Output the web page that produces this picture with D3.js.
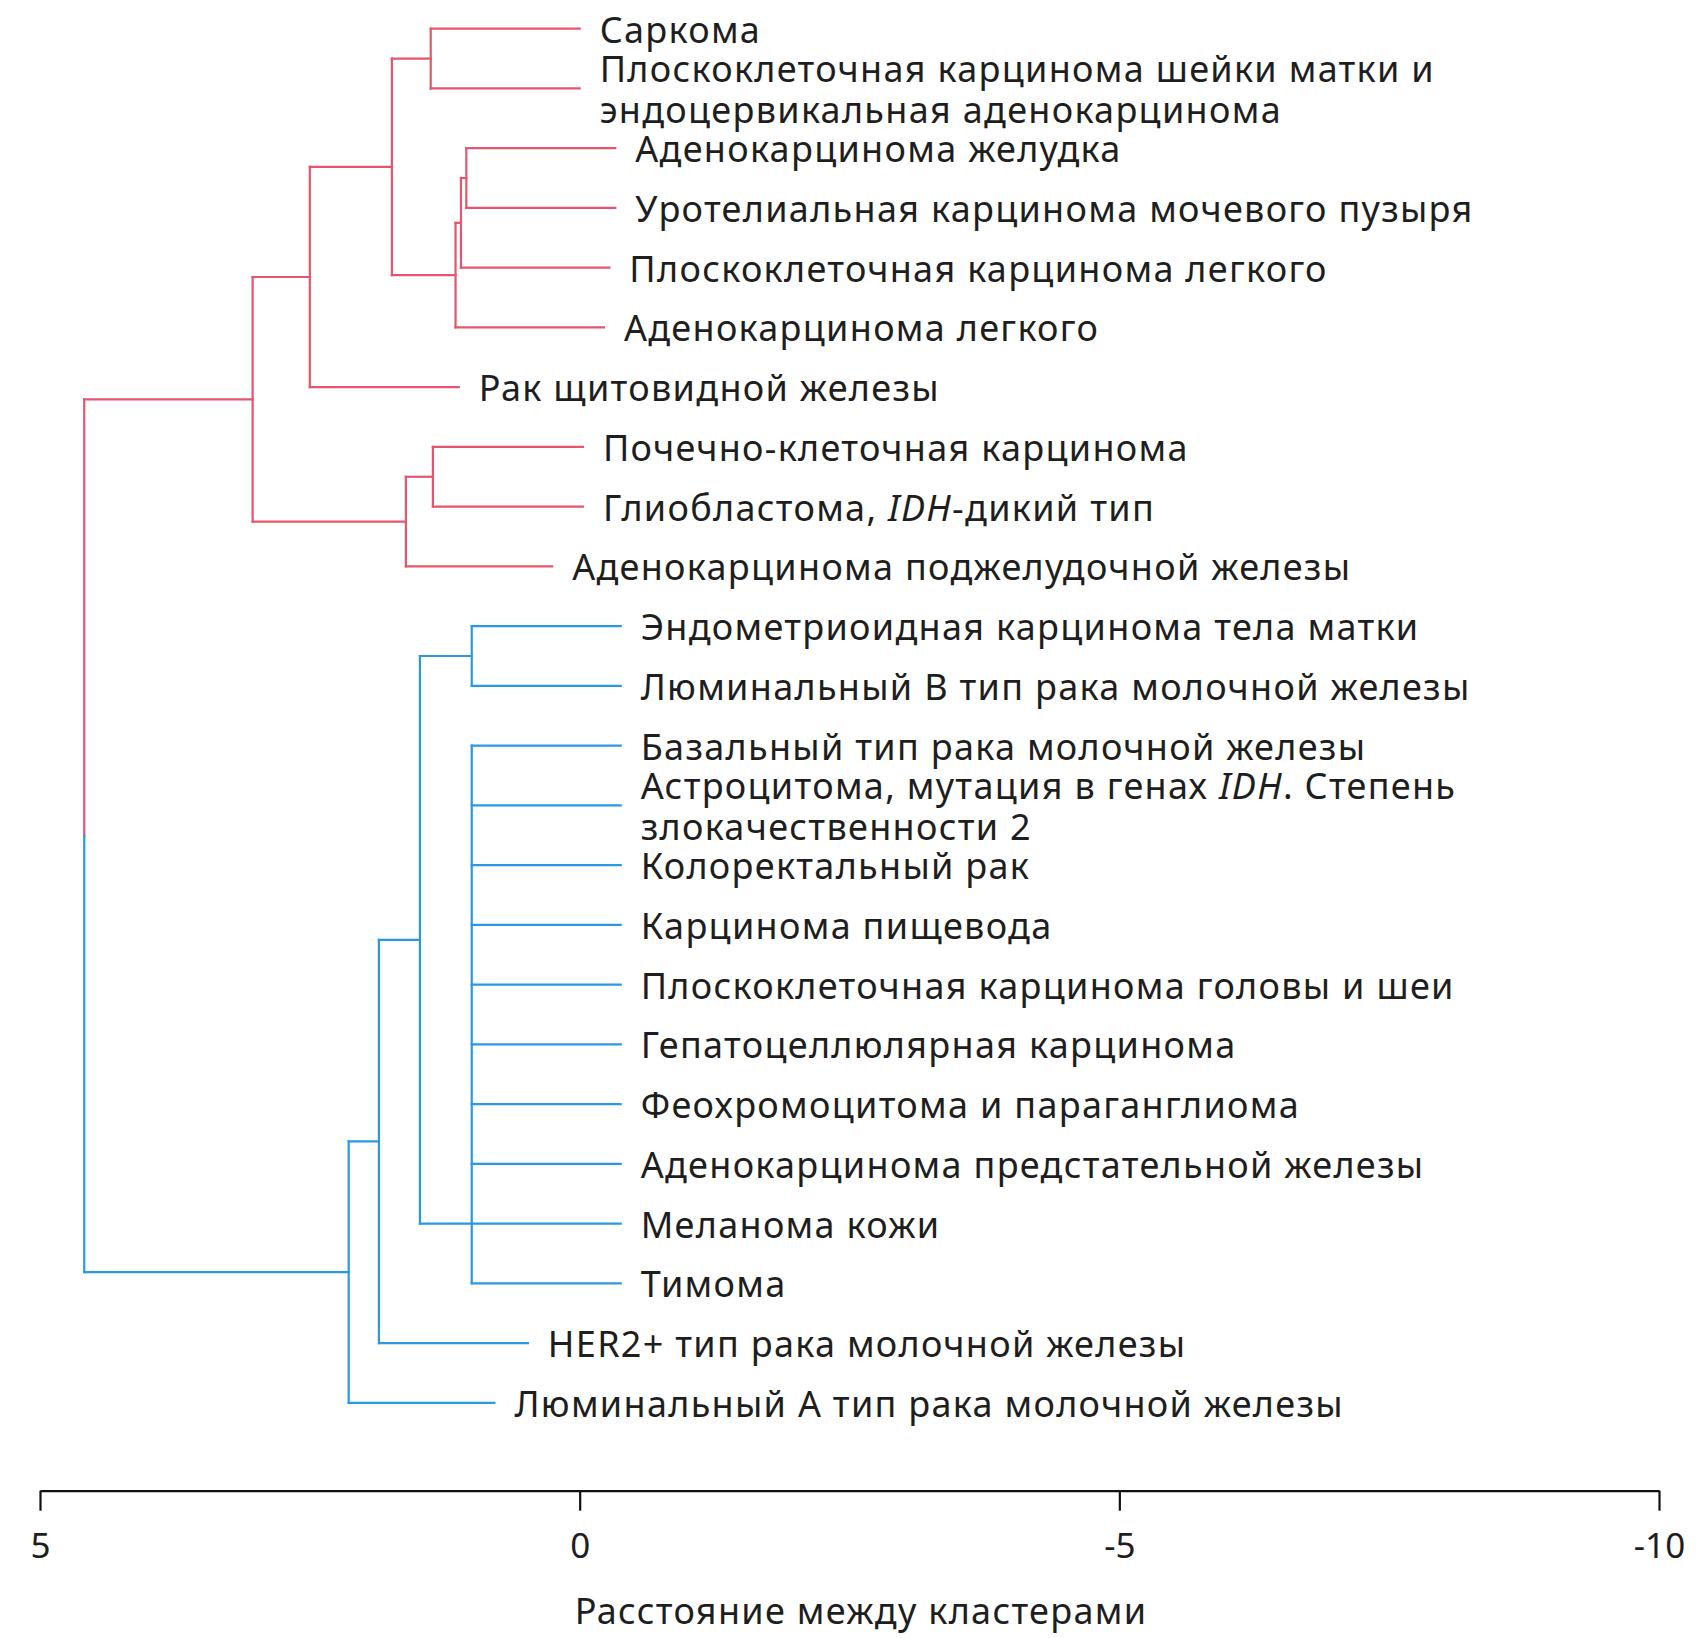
<!DOCTYPE html>
<html><head><meta charset="utf-8">
<script src="https://cdn.jsdelivr.net/npm/d3@7"></script>
<style>
html,body{margin:0;padding:0;background:#fff;}
svg{display:block;}
text{font-family:"Noto Sans", sans-serif;}
</style></head><body>
<svg id="chart" width="1697" height="1638"></svg>
<script>
// ---- Data ----
const leafKeys = ["SARC","CESC","STAD","BLCA","LUSC","LUAD","THCA","KIRC","GBM","PAAD",
  "UCEC","LUMB","BASAL","LGG","CRC","ESCA","HNSC","LIHC","PCPG","PRAD","SKCM","THYM","HER2","LUMA"];
const leafNames = [
  "Саркома",
  "Плоскоклеточная карцинома шейки матки и\nэндоцервикальная аденокарцинома",
  "Аденокарцинома желудка",
  "Уротелиальная карцинома мочевого пузыря",
  "Плоскоклеточная карцинома легкого",
  "Аденокарцинома легкого",
  "Рак щитовидной железы",
  "Почечно-клеточная карцинома",
  "Глиобластома, _IDH_-дикий тип",
  "Аденокарцинома поджелудочной железы",
  "Эндометриоидная карцинома тела матки",
  "Люминальный B тип рака молочной железы",
  "Базальный тип рака молочной железы",
  "Астроцитома, мутация в генах _IDH_. Степень\nзлокачественности 2",
  "Колоректальный рак",
  "Карцинома пищевода",
  "Плоскоклеточная карцинома головы и шеи",
  "Гепатоцеллюлярная карцинома",
  "Феохромоцитома и параганглиома",
  "Аденокарцинома предстательной железы",
  "Меланома кожи",
  "Тимома",
  "HER2+ тип рака молочной железы",
  "Люминальный A тип рака молочной железы"
];
// where each leaf branch ends (in distance units)
const leafEnd = [0, 0, -0.33, -0.33, -0.275, -0.225, 1.12, -0.03, -0.03, 0.255,
  -0.38, -0.38, -0.38, -0.38, -0.38, -0.38, -0.38, -0.38, -0.38, -0.38, -0.38, -0.38, 0.48, 0.79];

const mergeIds = ["m1","m2","m3","m4","m5","m6","m7","m8","m9","m10","m11","m12","m13","m14","m15"];
const mergeChildren = [
  ["SARC","CESC"],
  ["STAD","BLCA"],
  ["m2","LUSC"],
  ["m3","LUAD"],
  ["m1","m4"],
  ["m5","THCA"],
  ["KIRC","GBM"],
  ["m7","PAAD"],
  ["m6","m8"],
  ["UCEC","LUMB"],
  ["BASAL","LGG","CRC","ESCA","HNSC","LIHC","PCPG","PRAD","SKCM","THYM"],
  ["m10","m11"],
  ["m12","HER2"],
  ["m13","LUMA"],
  ["m9","m14"]
];
const mergeHeights = [1.38, 1.05, 1.10, 1.15, 1.74, 2.50, 1.36, 1.61, 3.03, 1.00, 1.00, 1.48, 1.86, 2.14, 4.59];
// cluster m11 is attached at the level of this leaf
const mergeAnchor = [null,null,null,null,null,null,null,null,null,null,"SKCM",null,null,null,null];

const clusterColors = ["#e3566d", "#2b98e5"];
const tickValues = [5, 0, -5, -10];
const tickLabels = ["5", "0", "-5", "-10"];
const axisTitle = "Расстояние между кластерами";

// ---- Layout ----
const svg = d3.select("#chart");
const x = d3.scaleLinear().domain([5, -10]).range([40, 1659]);
const y = d3.scalePoint().domain(leafKeys).range([28.7, 1402.8]);
const axisY = 1490.7;
const FS = 36;
const LS = "1.3px";

// build node table
const nodes = new Map();
leafKeys.forEach((k, i) => nodes.set(k, {id: k, leaf: true, xv: x(leafEnd[i]), y: y(k), name: leafNames[i], idx: i}));
mergeIds.forEach((id, i) => {
  const ch = mergeChildren[i].map(c => nodes.get(c));
  const ys = ch.map(c => c.y);
  const ny = mergeAnchor[i] ? nodes.get(mergeAnchor[i]).y : (d3.min(ys) + d3.max(ys)) / 2;
  nodes.set(id, {id, leaf: false, xv: x(mergeHeights[i]), y: ny, children: ch});
});
const root = nodes.get(mergeIds[mergeIds.length - 1]);
function paint(n, c) { n.color = c; if (n.children) n.children.forEach(ch => paint(ch, c)); }
root.children.forEach((ch, i) => paint(ch, clusterColors[i]));

const segs = [];
mergeIds.forEach(id => {
  const n = nodes.get(id);
  const ys = n.children.map(c => c.y);
  if (n === root) {
    const mid = (d3.min(ys) + d3.max(ys)) / 2;
    n.children.forEach(ch => segs.push({x1: n.xv, y1: ch.y, x2: n.xv, y2: mid, c: ch.color}));
  } else {
    segs.push({x1: n.xv, y1: d3.min(ys), x2: n.xv, y2: d3.max(ys), c: n.color});
  }
  n.children.forEach(ch => segs.push({x1: n.xv, y1: ch.y, x2: ch.xv, y2: ch.y, c: ch.color}));
});

svg.append("g").selectAll("line").data(segs).join("line")
  .attr("x1", d => d.x1).attr("y1", d => d.y1)
  .attr("x2", d => d.x2).attr("y2", d => d.y2)
  .attr("stroke", d => d.c).attr("stroke-width", 2.2)
  .attr("stroke-linecap", "square");

// labels
const lineH = 41, baseOff = 14, gap = 20;
const lg = svg.append("g").attr("fill", "#1e1e1e").attr("font-size", FS).attr("letter-spacing", LS);
leafKeys.forEach(k => {
  const n = nodes.get(k);
  const lines = n.name.split("\n");
  const t = lg.append("text");
  lines.forEach((ln, li) => {
    const by = n.y + baseOff + (li - (lines.length - 1) / 2) * lineH;
    const parts = ln.split("_");
    parts.forEach((p, pi) => {
      if (!p) return;
      const ts = t.append("tspan").text(p);
      if (pi === 0 || (pi === 1 && parts[0] === "")) ts.attr("x", n.xv + gap).attr("y", by);
      if (pi % 2 === 1) ts.attr("font-style", "italic");
    });
  });
});

// axis
const axis = d3.axisBottom(x).tickValues(tickValues)
  .tickFormat((d, i) => tickLabels[i]).tickSize(20).tickSizeOuter(0).tickPadding(22);
const ag = svg.append("g").attr("transform", `translate(0,${axisY})`).call(axis);
ag.select(".domain").attr("stroke", "#111").attr("stroke-width", 2.2);
ag.selectAll(".tick line").attr("stroke", "#111").attr("stroke-width", 2.2);
ag.selectAll(".tick text").attr("font-size", 35).attr("fill", "#1e1e1e")
  .attr("font-family", "'Noto Sans', sans-serif");

svg.append("text").attr("x", 861).attr("y", 1624).attr("text-anchor", "middle")
  .attr("font-size", FS).attr("fill", "#1e1e1e").attr("letter-spacing", LS).text(axisTitle);
</script>
</body></html>
